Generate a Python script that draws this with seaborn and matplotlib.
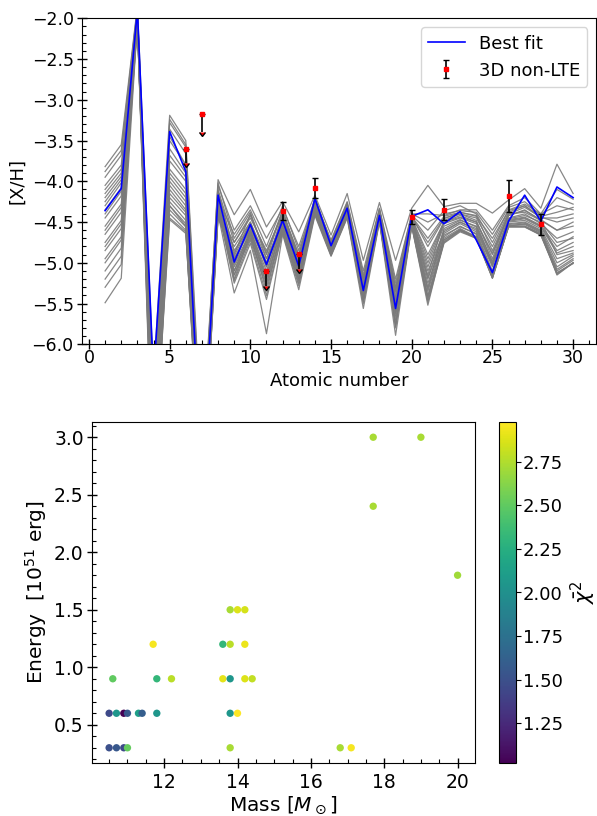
import numpy as np
import pandas as pd
import matplotlib
matplotlib.use("Agg")
import matplotlib.pyplot as plt
import seaborn as sns
from matplotlib.ticker import MultipleLocator

# ---------------- data: top panel ----------------
Z = list(range(1, 31))

best_fit = [-4.36, -4.09, -1.90, -6.40, -3.39, -3.88, -7.60, -4.17, -4.99, -4.53,
            -5.02, -4.48, -5.04, -4.21, -4.79, -4.33, -5.34, -4.42, -5.56, -4.43,
            -4.35, -4.52, -4.37, -4.72, -5.12, -4.49, -4.17, -4.49, -4.07, -4.20]

model_A = [-4.30, -4.02, -1.92, -6.6, -3.45, -3.80, -7.4, -3.98, -4.41, -4.10, -4.56, -4.25, -4.62, -4.17, -4.66, -4.15, -4.97, -4.26, -4.97, -4.33, -4.05, -4.31, -4.27, -4.27, -4.39, -4.23, -4.09, -4.33, -3.79, -4.15]
model_B = [-5.20, -4.92, -2.05, -7.8, -4.30, -4.55, -7.9, -4.40, -5.37, -4.85, -5.87, -4.65, -5.33, -4.42, -4.92, -4.45, -5.56, -4.50, -5.89, -4.55, -5.52, -4.72, -4.60, -4.68, -5.19, -4.55, -4.52, -4.62, -5.15, -5.00]
model_C = [-3.82, -3.55, -1.85, -6.4, -3.19, -3.50, -7.2, -4.05, -4.60, -4.30, -4.70, -4.33, -4.80, -4.22, -4.74, -4.25, -5.10, -4.33, -5.20, -4.40, -4.40, -4.42, -4.35, -4.35, -4.60, -4.30, -4.20, -4.40, -4.10, -4.22]
model_D = [-3.95, -3.68, -1.88, -7.0, -3.28, -3.58, -7.5, -4.10, -4.75, -4.45, -4.85, -4.40, -4.90, -4.26, -4.78, -4.30, -5.20, -4.38, -5.35, -4.45, -4.90, -4.50, -4.42, -4.50, -4.90, -4.42, -4.35, -4.48, -4.60, -4.55]
model_E = [-4.05, -3.80, -1.95, -6.8, -3.36, -3.66, -7.6, -4.14, -4.85, -4.55, -5.00, -4.45, -5.00, -4.30, -4.82, -4.35, -5.30, -4.42, -5.45, -4.48, -5.10, -4.62, -4.50, -4.60, -5.05, -4.48, -4.45, -4.55, -4.85, -4.75]
model_F = [-4.15, -3.90, -1.90, -7.3, -3.95, -4.20, -7.7, -4.20, -4.95, -4.60, -5.10, -4.50, -5.10, -4.33, -4.85, -4.38, -5.35, -4.44, -5.55, -4.50, -5.25, -4.68, -4.55, -4.65, -5.12, -4.52, -4.50, -4.60, -5.00, -4.90]
model_G = [-4.25, -3.98, -2.00, -6.5, -4.05, -4.30, -7.5, -4.25, -5.05, -4.65, -5.20, -4.55, -5.15, -4.36, -4.88, -4.40, -5.40, -4.46, -5.65, -4.52, -5.35, -4.70, -4.58, -4.68, -5.15, -4.54, -4.53, -4.63, -5.08, -4.95]
model_H = [-4.45, -4.18, -1.95, -7.1, -4.15, -4.38, -7.8, -4.30, -5.15, -4.70, -5.30, -4.60, -5.22, -4.38, -4.90, -4.42, -5.45, -4.48, -5.75, -4.54, -5.42, -4.74, -4.60, -4.70, -5.18, -4.56, -4.56, -4.66, -5.12, -5.01]
model_I = [-4.55, -4.28, -2.05, -7.5, -4.25, -4.48, -7.6, -4.35, -5.25, -4.76, -5.45, -4.63, -5.28, -4.40, -4.91, -4.44, -5.50, -4.49, -5.80, -4.55, -5.48, -4.76, -4.62, -4.70, -5.19, -4.56, -4.56, -4.66, -5.14, -5.00]
model_J = [-4.65, -4.38, -2.00, -6.9, -4.40, -4.60, -7.9, -4.45, -4.90, -4.40, -4.90, -4.35, -4.95, -4.20, -4.75, -4.28, -5.25, -4.36, -5.30, -4.42, -4.60, -4.36, -4.30, -4.40, -4.75, -4.35, -4.28, -4.40, -4.30, -4.35]
model_K = [-4.75, -4.48, -2.08, -7.6, -4.47, -4.64, -7.7, -4.38, -5.10, -4.60, -5.15, -4.45, -5.05, -4.25, -4.80, -4.32, -5.30, -4.40, -5.40, -4.44, -4.75, -4.45, -4.40, -4.45, -4.80, -4.38, -4.30, -4.45, -4.45, -4.40]
model_L = [-4.85, -4.58, -2.10, -7.2, -4.20, -4.42, -7.4, -4.28, -5.20, -4.65, -5.35, -4.55, -5.18, -4.35, -4.86, -4.38, -5.42, -4.45, -5.60, -4.50, -5.30, -4.58, -4.48, -4.55, -4.98, -4.45, -4.40, -4.52, -4.70, -4.62]
model_M = [-4.95, -4.68, -2.00, -7.9, -4.10, -4.35, -7.8, -4.22, -4.65, -4.35, -4.80, -4.30, -4.85, -4.24, -4.72, -4.26, -5.15, -4.34, -5.25, -4.40, -4.50, -4.40, -4.36, -4.38, -4.65, -4.32, -4.25, -4.42, -4.20, -4.28]
model_N = [-5.10, -4.82, -1.90, -6.7, -3.85, -4.10, -7.6, -4.32, -5.00, -4.55, -5.05, -4.40, -5.02, -4.30, -4.84, -4.36, -5.35, -4.42, -5.50, -4.47, -5.00, -4.52, -4.45, -4.52, -5.00, -4.46, -4.42, -4.50, -4.75, -4.70]
model_O = [-5.49, -5.19, -2.05, -8.0, -3.75, -4.00, -7.9, -4.42, -4.80, -4.50, -4.95, -4.50, -4.92, -4.28, -4.82, -4.34, -5.28, -4.40, -5.45, -4.46, -5.15, -4.48, -4.40, -4.48, -4.95, -4.40, -4.38, -4.48, -4.90, -4.85]
model_P = [-4.35, -4.08, -1.98, -7.4, -3.60, -3.90, -7.3, -4.18, -4.95, -4.58, -5.02, -4.48, -5.08, -4.32, -4.84, -4.40, -5.38, -4.44, -5.58, -4.50, -5.20, -4.64, -4.52, -4.62, -5.10, -4.50, -4.48, -4.58, -4.95, -4.88]
model_Q = [-3.88, -3.62, -1.87, -6.9, -3.24, -3.55, -7.3, -4.02, -4.70, -4.38, -4.95, -4.36, -4.98, -4.24, -4.76, -4.28, -5.18, -4.35, -5.32, -4.43, -4.80, -4.46, -4.38, -4.42, -4.85, -4.40, -4.32, -4.44, -4.50, -4.45]
model_R = [-4.10, -3.85, -1.93, -7.2, -3.50, -3.80, -7.6, -4.12, -4.88, -4.50, -5.05, -4.42, -5.03, -4.29, -4.81, -4.33, -5.27, -4.41, -5.48, -4.47, -5.05, -4.55, -4.47, -4.56, -5.02, -4.47, -4.44, -4.54, -4.80, -4.68]
model_S = [-4.20, -3.94, -2.02, -6.6, -3.90, -4.15, -7.7, -4.24, -5.02, -4.62, -5.18, -4.52, -5.12, -4.34, -4.87, -4.39, -5.37, -4.45, -5.62, -4.51, -5.32, -4.66, -4.56, -4.64, -5.14, -4.53, -4.51, -4.61, -5.05, -4.92]
model_T = [-4.40, -4.12, -1.97, -7.7, -4.00, -4.25, -7.5, -4.27, -5.10, -4.68, -5.26, -4.58, -5.20, -4.37, -4.89, -4.41, -5.44, -4.47, -5.70, -4.53, -5.40, -4.72, -4.59, -4.69, -5.17, -4.55, -4.55, -4.64, -5.10, -4.97]
model_U = [-4.60, -4.32, -2.03, -7.0, -4.30, -4.52, -7.8, -4.33, -5.22, -4.72, -5.40, -4.61, -5.25, -4.39, -4.90, -4.43, -5.48, -4.48, -5.78, -4.54, -5.45, -4.75, -4.61, -4.69, -5.18, -4.55, -4.55, -4.65, -5.13, -5.00]
model_V = [-4.80, -4.52, -1.95, -7.3, -4.35, -4.56, -7.6, -4.36, -5.15, -4.62, -5.25, -4.48, -5.12, -4.27, -4.83, -4.35, -5.33, -4.42, -5.45, -4.45, -4.95, -4.50, -4.44, -4.50, -4.88, -4.42, -4.36, -4.47, -4.60, -4.50]
model_W = [-5.00, -4.72, -2.07, -7.5, -4.45, -4.62, -7.9, -4.40, -4.75, -4.42, -4.88, -4.38, -4.90, -4.23, -4.77, -4.30, -5.22, -4.37, -5.35, -4.43, -4.70, -4.43, -4.38, -4.43, -4.70, -4.36, -4.30, -4.43, -4.38, -4.32]
model_X = [-5.30, -5.02, -1.92, -7.1, -3.68, -3.95, -7.5, -4.44, -4.92, -4.52, -5.00, -4.47, -4.98, -4.31, -4.85, -4.37, -5.32, -4.43, -5.52, -4.49, -5.18, -4.60, -4.50, -4.58, -5.03, -4.49, -4.46, -4.56, -4.88, -4.80]

gray_models = [model_A, model_B, model_C, model_D, model_E, model_F, model_G, model_H,
               model_I, model_J, model_K, model_L, model_M, model_N, model_O, model_P,
               model_Q, model_R, model_S, model_T, model_U, model_V, model_W, model_X]

obs_z = [6, 7, 11, 12, 13, 14, 20, 22, 26, 28]
obs_val = [-3.60, -3.18, -5.10, -4.36, -4.89, -4.08, -4.44, -4.35, -4.18, -4.53]
obs_err = [0.18, 0.21, 0.18, 0.11, 0.18, 0.12, 0.09, 0.13, 0.20, 0.13]
obs_uplim = [True, True, True, False, True, False, False, False, False, False]

# ---------------- data: bottom panel ----------------
mass = [17.7, 19.0, 17.7, 20.0,
        13.8, 14.0, 14.2,
        11.7, 13.6, 13.8, 14.2,
        10.6, 11.8, 12.2, 13.6, 13.8, 14.2, 14.4,
        10.5, 10.7, 10.9, 11.0, 11.3, 11.4, 11.8, 13.8, 14.0,
        10.5, 10.7, 10.9, 11.0, 13.8, 16.8, 17.1]
energy = [3.0, 3.0, 2.4, 1.8,
          1.5, 1.5, 1.5,
          1.2, 1.2, 1.2, 1.2,
          0.9, 0.9, 0.9, 0.9, 0.9, 0.9, 0.9,
          0.6, 0.6, 0.6, 0.6, 0.6, 0.6, 0.6, 0.6, 0.6,
          0.3, 0.3, 0.3, 0.3, 0.3, 0.3, 0.3]
chi2 = [2.72, 2.72, 2.72, 2.70,
        2.72, 2.88, 2.85,
        2.95, 2.32, 2.78, 2.92,
        2.50, 2.32, 2.78, 2.90, 2.05, 2.88, 2.80,
        1.45, 2.05, 1.02, 1.55, 2.12, 1.60, 2.05, 2.05, 2.98,
        1.50, 1.55, 1.45, 2.52, 2.72, 2.72, 2.95]

# ---------------- figure ----------------
W, H = 597, 816
fig = plt.figure(figsize=(W / 100, H / 100), dpi=100)

ax1 = fig.add_axes([81.7 / W, 1 - 344.3 / H, (596.5 - 81.7) / W, (344.3 - 18.3) / H])
ax2 = fig.add_axes([91.7 / W, 1 - 763.3 / H, (475 - 91.7) / W, (763.3 - 421.7) / H])
cax = fig.add_axes([499.3 / W, 1 - 763.3 / H, 16.4 / W, (763.3 - 421.7) / H])

# top panel
rows = []
for i, m in enumerate(gray_models):
    for z, v in zip(Z, m):
        rows.append((i, z, v))
gdf = pd.DataFrame(rows, columns=["model", "Z", "XH"])
sns.lineplot(data=gdf, x="Z", y="XH", units="model", estimator=None, color="#7a7a7a",
             lw=0.9, alpha=0.9, ax=ax1, legend=False)
sns.lineplot(x=Z, y=best_fit, color="blue", lw=1.2, ax=ax1, label="Best fit")
ax1.errorbar(obs_z, obs_val, yerr=obs_err, uplims=obs_uplim, fmt="s", color="red",
             ms=3.5, ecolor="black", capsize=2, elinewidth=1.2, label="3D non-LTE",
             zorder=5)

ax1.set_xlim(-0.45, 31.45)
ax1.set_ylim(-6.0, -2.0)
ax1.set_xlabel("Atomic number", fontsize=13, labelpad=4)
ax1.set_ylabel("[X/H]", fontsize=13)
ax1.xaxis.set_major_locator(MultipleLocator(5))
ax1.xaxis.set_minor_locator(MultipleLocator(1))
ax1.yaxis.set_major_locator(MultipleLocator(0.5))
ax1.yaxis.set_minor_locator(MultipleLocator(0.1))
ax1.tick_params(which="major", direction="inout", length=6.5, width=1, labelsize=12.5)
ax1.tick_params(which="minor", direction="in", length=3, width=0.8)
ax1.tick_params(axis="x", which="major", pad=0)
ax1.tick_params(axis="y", which="major", pad=2.5)
ax1.legend(loc="upper right", fontsize=13)

# bottom panel
vmin, vmax = min(chi2), max(chi2)
sns.scatterplot(x=mass, y=energy, hue=chi2, palette="viridis", hue_norm=(vmin, vmax),
                s=28, linewidth=0, legend=False, ax=ax2)
ax2.set_xlabel(r"Mass [$M_\odot$]", fontsize=14.5, labelpad=2)
ax2.set_ylabel(r"Energy  [$10^{51}$ erg]", fontsize=14.5)
ax2.xaxis.set_major_locator(MultipleLocator(2))
ax2.xaxis.set_minor_locator(MultipleLocator(0.5))
ax2.yaxis.set_major_locator(MultipleLocator(0.5))
ax2.yaxis.set_minor_locator(MultipleLocator(0.1))
ax2.tick_params(which="major", direction="inout", length=6.5, width=1, labelsize=13.5)
ax2.tick_params(which="minor", direction="in", length=3, width=0.8)
ax2.tick_params(axis="y", which="major", pad=2.5)

sm = plt.cm.ScalarMappable(cmap="viridis", norm=plt.Normalize(vmin, vmax))
cb = fig.colorbar(sm, cax=cax)
cb.ax.tick_params(labelsize=13, pad=1.5)
cb.set_label(r"$\bar{\chi}^2$", fontsize=15, labelpad=4)

fig.savefig("out.png", dpi=100)
